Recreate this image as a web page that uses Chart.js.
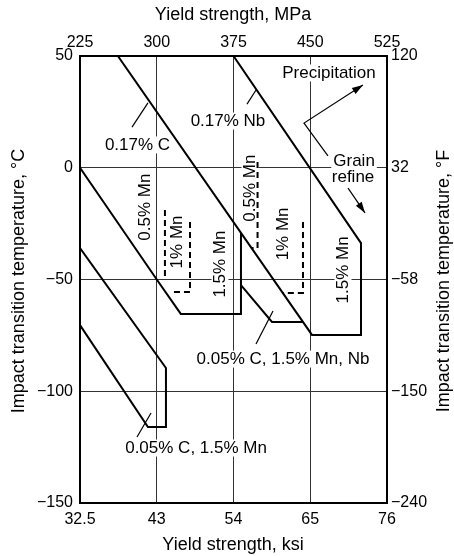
<!DOCTYPE html>
<html>
<head>
<meta charset="utf-8">
<script src="https://cdn.jsdelivr.net/npm/chart.js@4.4.0/dist/chart.umd.min.js"></script>
<style>
  html, body { margin: 0; padding: 0; background: #fff; overflow: hidden; }
  #wrap { width: 454px; height: 556px; position: relative; }
</style>
</head>
<body>
<div id="wrap"><canvas id="impactChart"></canvas></div>
<script>
// ticks
const mpaTicks = [225, 300, 375, 450, 525];
const ksiLabels = ['32.5', '43', '54', '65', '76'];
const celsiusTicks = [-150, -100, -50, 0, 50];
const celsiusLabels = ['−150', '−100', '−50', '0', '50'];
const fahrenheitLabels = ['−240', '−150', '−58', '32', '120'];

// outlines, [yield strength MPa, transition temperature °C]
const carbon017Nb = [[262, 50], [451.7, -74.8], [499.6, -74.8], [499.6, -33.7], [375, 50]];
const carbonMn = [[225, 0], [300, -50], [323.5, -65.4], [382.3, -65.4], [382.3, -29.2]];
const lowCarbonMnNb = [[382.3, -52.5], [412.6, -69], [443, -69]];
const lowCarbonMn = [[225, -35.9], [309, -89.6], [309, -116], [291.4, -116], [225, -70.4]];
// dashed ends for lower Mn contents
const mn05C = [[308, -18.9], [308, -50.2]];
const mn1C = [[332.5, -24.3], [332.5, -55.6], [313, -55.6]];
const mn05Nb = [[398.5, 2.6], [398.5, -35.9], [392.6, -35.9]];
const mn1Nb = [[442.9, -24.3], [442.9, -56], [423.3, -56]];

const FONT = '"Liberation Sans", Arial, sans-serif';

function toPoints(arr) {
  return arr.map(p => ({ x: p[0], y: p[1] }));
}
function outline(arr, dashed) {
  return {
    data: toPoints(arr),
    showLine: true,
    borderColor: '#000',
    borderWidth: 2,
    borderDash: dashed ? [6, 4] : [],
    pointRadius: 0,
    fill: false,
    tension: 0
  };
}

// labels and pointers, placed in data units
const texts = [
  ['0.17% C', 281.2, 10.2, false],
  ['0.17% Nb', 369.6, 20.9, false],
  ['Precipitation', 468.3, 42.4, false],
  ['Grain', 492.8, 3.0, false],
  ['refine', 491.8, -4.1, false],
  ['0.5% Mn', 288.5, -17.6, true],
  ['1% Mn', 319.8, -33.2, true],
  ['1.5% Mn', 361.8, -43.1, true],
  ['0.5% Mn', 391.1, -9.1, true],
  ['1% Mn', 423.4, -29.6, true],
  ['1.5% Mn', 482.0, -45.7, true],
  ['0.05% C, 1.5% Mn, Nb', 423.4, -85.6, false],
  ['0.05% C, 1.5% Mn', 338.4, -125.4, false]
];
const leaders = [
  [[275.8, 18.2], [291.4, 29.0]],
  [[388.2, 28.5], [397.0, 34.8]],
  [[397.0, -78.9], [413.6, -64.1]],
  [[280.7, -120.5], [294.4, -109.7]]
];
const arrows = [
  [[467.3, 5.3], [443.9, 20.0], [501.5, 37.0]],
  [[486.9, -9.1], [503.5, -20.2]]
];

var annotate = {
  id: 'annotate',
  beforeDatasetsDraw: function(chart) {
    const ctx = chart.ctx;
    const sx = chart.scales.x, sy = chart.scales.y;
    texts.forEach(t => {
      const x = sx.getPixelForValue(t[1]);
      const y = sy.getPixelForValue(t[2]);
      ctx.save();
      ctx.translate(x, y);
      if (t[3]) ctx.rotate(-Math.PI / 2);
      ctx.font = '17px ' + FONT;
      const w = ctx.measureText(t[0]).width;
      ctx.fillStyle = '#fff';
      ctx.fillRect(-w / 2 - 2, -8.5, w + 4, 17);
      ctx.fillStyle = '#000';
      ctx.textAlign = 'center';
      ctx.textBaseline = 'middle';
      ctx.fillText(t[0], 0, 0);
      ctx.restore();
    });
  },
  afterDatasetsDraw: function(chart) {
    const ctx = chart.ctx;
    const sx = chart.scales.x, sy = chart.scales.y;
    const px = p => [sx.getPixelForValue(p[0]), sy.getPixelForValue(p[1])];
    ctx.save();
    ctx.strokeStyle = '#000';
    ctx.fillStyle = '#000';
    ctx.lineWidth = 1.2;
    leaders.concat(arrows).forEach(line => {
      ctx.beginPath();
      line.forEach((p, i) => {
        const q = px(p);
        if (i === 0) ctx.moveTo(q[0], q[1]); else ctx.lineTo(q[0], q[1]);
      });
      ctx.stroke();
    });
    // arrow heads
    arrows.forEach(line => {
      const a = px(line[line.length - 2]);
      const b = px(line[line.length - 1]);
      const ang = Math.atan2(b[1] - a[1], b[0] - a[0]);
      ctx.beginPath();
      ctx.moveTo(b[0], b[1]);
      ctx.lineTo(b[0] - 11 * Math.cos(ang) + 3.5 * Math.sin(ang), b[1] - 11 * Math.sin(ang) - 3.5 * Math.cos(ang));
      ctx.lineTo(b[0] - 11 * Math.cos(ang) - 3.5 * Math.sin(ang), b[1] - 11 * Math.sin(ang) + 3.5 * Math.cos(ang));
      ctx.closePath();
      ctx.fill();
    });
    ctx.restore();
  },
  afterDraw: function(chart) {
    const ctx = chart.ctx;
    ctx.save();
    ctx.fillStyle = '#000';
    ctx.textAlign = 'center';
    ctx.textBaseline = 'middle';
    ctx.font = '18px ' + FONT;
    ctx.fillText('Yield strength, MPa', 233, 15);
    ctx.fillText('Yield strength, ksi', 233, 545);
    ctx.translate(19, 281);
    ctx.rotate(-Math.PI / 2);
    ctx.fillText('Impact transition temperature, °C', 0, 0);
    ctx.restore();
    ctx.save();
    ctx.fillStyle = '#000';
    ctx.textAlign = 'center';
    ctx.textBaseline = 'middle';
    ctx.font = '18px ' + FONT;
    ctx.translate(444, 281);
    ctx.rotate(-Math.PI / 2);
    ctx.fillText('Impact transition temperature, °F', 0, 0);
    ctx.restore();
  }
};

function axis(position, min, max, ticks, labels, size, onChart) {
  const horizontal = position === 'top' || position === 'bottom';
  return {
    type: 'linear',
    position: position,
    min: min,
    max: max,
    afterBuildTicks: s => { s.ticks = ticks.map(v => ({ value: v })); },
    afterFit: s => { if (horizontal) s.height = size; else s.width = size; },
    grid: { display: true, drawOnChartArea: onChart, drawTicks: false, color: '#333', lineWidth: 1 },
    border: { display: true, color: '#000', width: 2 },
    ticks: {
      color: '#000',
      font: { family: FONT, size: 16 },
      padding: position === 'bottom' ? 7 : (position === 'top' ? 4 : (position === 'left' ? 7 : 4)),
      maxRotation: 0,
      autoSkip: false,
      callback: v => labels[ticks.indexOf(v)]
    }
  };
}

let ctx = document.getElementById('impactChart').getContext('2d');
let impactChart = new Chart(ctx, {
  type: 'scatter',
  data: {
    datasets: [
      outline(carbon017Nb), outline(carbonMn), outline(lowCarbonMnNb), outline(lowCarbonMn),
      outline(mn05C, true), outline(mn1C, true), outline(mn05Nb, true), outline(mn1Nb, true)
    ]
  },
  plugins: [annotate],
  options: {
    responsive: true,
    maintainAspectRatio: false,
    animation: false,
    events: [],
    layout: { padding: 0 },
    plugins: { legend: { display: false }, tooltip: { enabled: false } },
    scales: {
      x: axis('bottom', 225, 525, mpaTicks, ksiLabels, 53, true),
      x2: axis('top', 225, 525, mpaTicks, mpaTicks.map(String), 56, false),
      y: axis('left', -150, 50, celsiusTicks, celsiusLabels, 80, true),
      y2: axis('right', -150, 50, celsiusTicks, fahrenheitLabels, 67, false)
    }
  }
});
</script>
</body>
</html>
